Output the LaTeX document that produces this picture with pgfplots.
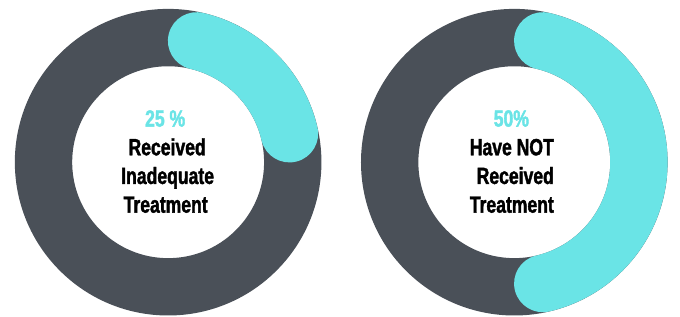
\documentclass[border=0pt]{standalone}
\usepackage{pgfplots}
\pgfplotsset{compat=1.18}
\usepackage{fontspec}
\setmainfont{Liberation Sans}[FakeStretch=0.75, BoldFeatures={FakeBold=1.6}]
\definecolor{ringdark}{HTML}{4A5058}
\definecolor{ringcyan}{HTML}{6AE4E6}
\begin{document}
\begin{tikzpicture}
\begin{axis}[
  width=680pt, height=320pt, scale only axis,
  xmin=0, xmax=680, ymin=0, ymax=320,
  hide axis, clip=false,
]
% background area (keeps the page size)
\path[fill=white] (axis cs:0,0) rectangle (axis cs:680,320);
% ring geometry (axis units = pixels of the reference)
\def\rmid{126}
\def\rw{58pt}
\def\capdeg{13.2}
% donut 1: 25 %
\pgfmathsetmacro{\pA}{25}
\pgfmathsetmacro{\sA}{90-\capdeg}
\pgfmathsetmacro{\eA}{90-3.6*\pA+\capdeg}
\draw[ringdark, line width=\rw] (axis cs:170,156) circle[radius=\rmid];
\draw[ringcyan, line width=\rw, line cap=round]
  (axis cs:{170+\rmid*cos(\sA)},{156+\rmid*sin(\sA)}) arc[start angle=\sA, end angle=\eA, radius=\rmid];
% donut 2: 50 %
\pgfmathsetmacro{\pB}{50}
\pgfmathsetmacro{\sB}{90-\capdeg}
\pgfmathsetmacro{\eB}{90-3.6*\pB+\capdeg}
\draw[ringdark, line width=\rw] (axis cs:520,156) circle[radius=\rmid];
\draw[ringcyan, line width=\rw, line cap=round]
  (axis cs:{520+\rmid*cos(\sB)},{156+\rmid*sin(\sB)}) arc[start angle=\sB, end angle=\eB, radius=\rmid];
% labels
\tikzset{lbl/.style={anchor=base, inner sep=0pt, font=\fontsize{23.7}{29}\selectfont\bfseries}}
\node[lbl, ringcyan] at (axis cs:167,192) {25 \%};
\node[lbl] at (axis cs:169,163) {Received};
\node[lbl] at (axis cs:169.5,134) {Inadequate};
\node[lbl] at (axis cs:167.5,105) {Treatment};
\node[lbl, ringcyan] at (axis cs:517,192) {50\%};
\node[lbl] at (axis cs:517.5,163) {Have NOT};
\node[lbl] at (axis cs:521,134) {Received};
\node[lbl] at (axis cs:517.5,105) {Treatment};
\end{axis}
\end{tikzpicture}
\end{document}
